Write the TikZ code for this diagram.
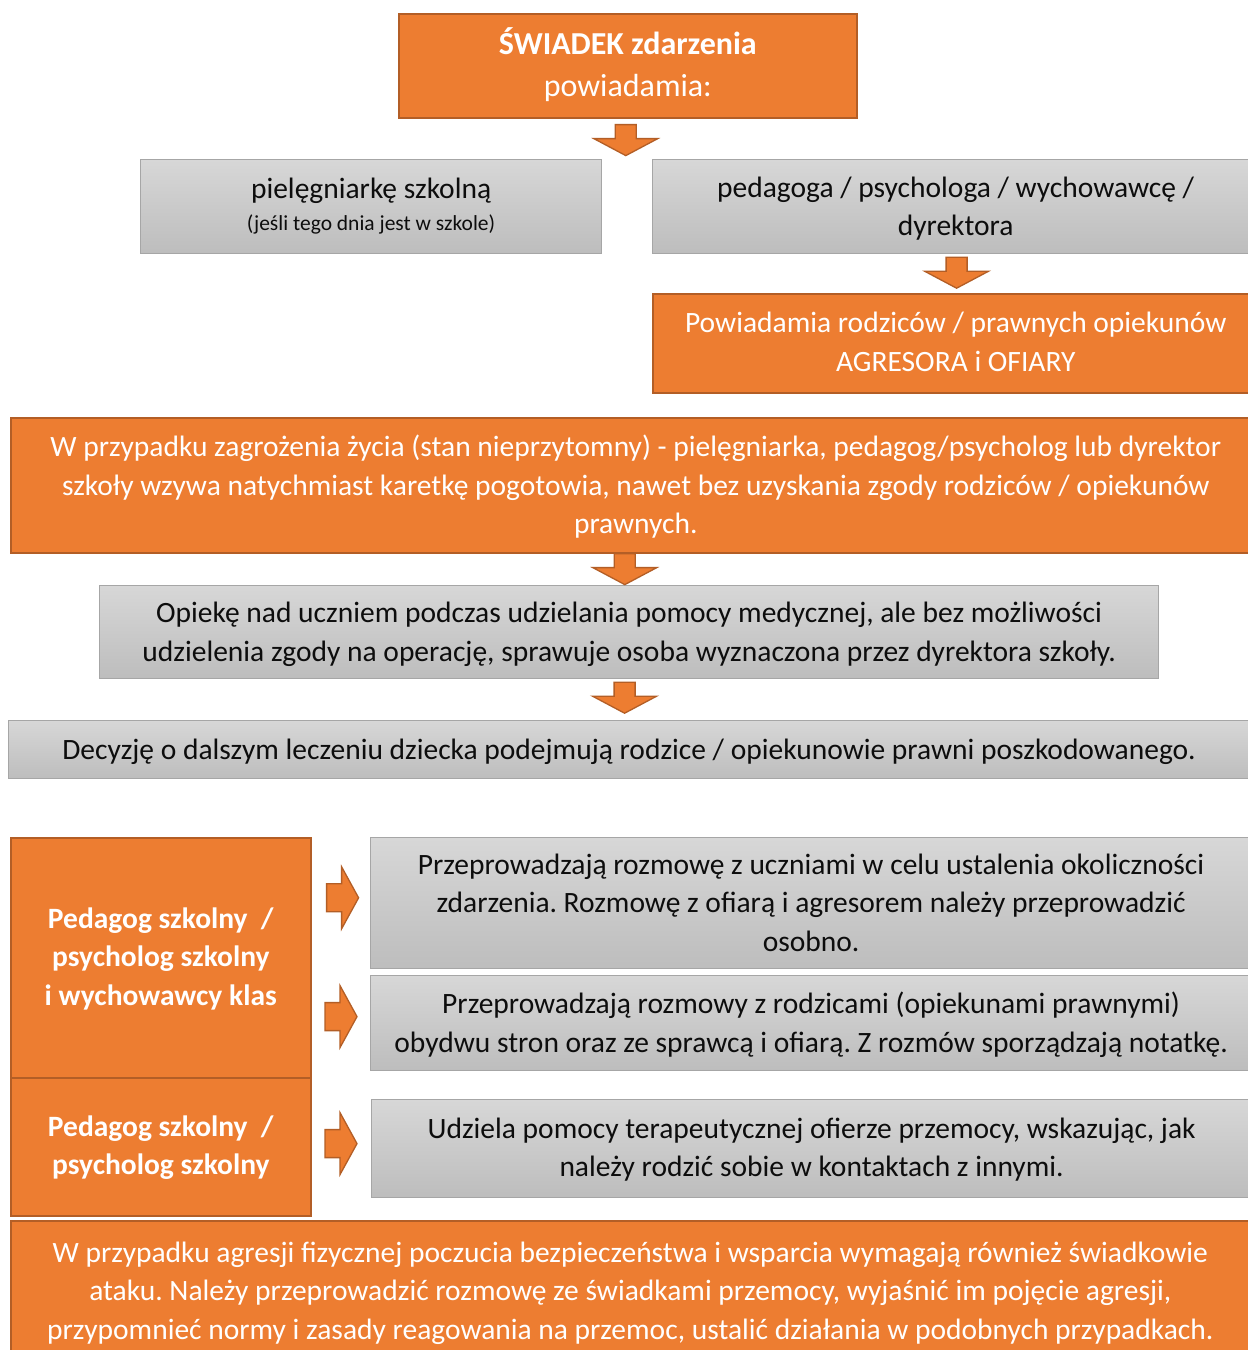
\documentclass[tikz,border=0pt]{standalone}
\usepackage{fontspec}
\setmainfont{Carlito}
\usetikzlibrary{calc}
\definecolor{org}{HTML}{ED7D31}
\definecolor{orgd}{HTML}{B35E26}
\definecolor{gtop}{HTML}{D7D7D7}
\definecolor{gbot}{HTML}{BDBDBD}
\definecolor{gline}{HTML}{A6A6A6}
\newcommand\tx[2][-2pt]{\raisebox{#1}[\height][\depth]{\begin{tabular}{@{}c@{}}#2\end{tabular}}}
\begin{document}
\frenchspacing
\begin{tikzpicture}[x=1pt,y=-1pt,
 box/.style={anchor=north west, inner sep=0pt, font=\fontsize{29.5}{38.5}\selectfont},
 obox/.style={box, fill=org, draw=orgd, line width=1.6pt, text=white},
 gbox/.style={box, top color=gtop, bottom color=gbot, draw=gline, line width=1.2pt, text=black!95},
 arr/.style={fill=org, draw=orgd, line width=1.3pt, line join=miter},
 darrow/.pic={\draw[arr] (-10.5,0) -- (10.5,0) -- (10.5,14) -- (32,14) -- (0,31) -- (-32,14) -- (-10.5,14) -- cycle;},
 rarrow/.pic={\draw[arr] (0,-14) -- (15,-14) -- (15,-31) -- (32,0) -- (15,31) -- (15,14) -- (0,14) -- cycle;}
]
\useasboundingbox[fill=white] (0,0) rectangle (1248,1350);
\clip (0,0) rectangle (1248,1350);

\node[obox, minimum width=458, minimum height=104, font=\fontsize{32}{42}\selectfont] (top) at (398,13)
  {\tx[-1pt]{\textbf{ŚWIADEK zdarzenia}\\powiadamia:}};
\node[gbox, minimum width=461, minimum height=94] (nurse) at (140,159)
  {\tx[0pt]{pielęgniarkę szkolną\\[-7pt]{\fontsize{21.5}{26}\selectfont (jeśli tego dnia jest w szkole)}}};
\node[gbox, minimum width=606, minimum height=94] (staff) at (652,159)
  {\tx{pedagoga / psychologa / wychowawcę /\\dyrektora}};
\node[obox, minimum width=606, minimum height=99] (parents) at (652,293)
  {\tx[-1pt]{Powiadamia rodziców / prawnych opiekunów\\AGRESORA i OFIARY}};
\node[obox, minimum width=1250, minimum height=135] (emerg) at (10,417)
  {\tx{W przypadku zagrożenia życia (stan nieprzytomny) - pielęgniarka, pedagog/psycholog lub dyrektor\\szkoły wzywa natychmiast karetkę pogotowia, nawet bez uzyskania zgody rodziców / opiekunów\\prawnych.}};
\node[gbox, minimum width=1059, minimum height=93] (care) at (99,585)
  {\tx{Opiekę nad uczniem podczas udzielania pomocy medycznej, ale bez możliwości\\udzielenia zgody na operację, sprawuje osoba wyznaczona przez dyrektora szkoły.}};
\node[gbox, minimum width=1241, minimum height=58] (decision) at (8,720)
  {\tx{Decyzję o dalszym leczeniu dziecka podejmują rodzice / opiekunowie prawni poszkodowanego.}};
\node[obox, minimum width=300, minimum height=240, font=\fontsize{29.5}{38.5}\selectfont\bfseries] (ped1) at (10,837)
  {\tx[-1pt]{Pedagog szkolny~~/\\psycholog szkolny\\i wychowawcy klas}};
\node[obox, minimum width=300, minimum height=138, font=\fontsize{29.5}{38.5}\selectfont\bfseries] (ped2) at (10,1077)
  {\tx[-1pt]{Pedagog szkolny~~/\\psycholog szkolny}};
\node[gbox, minimum width=881, minimum height=131] (talk1) at (370,837)
  {\tx{Przeprowadzają rozmowę z uczniami w celu ustalenia okoliczności\\zdarzenia. Rozmowę z ofiarą i agresorem należy przeprowadzić\\osobno.}};
\node[gbox, minimum width=881, minimum height=95] (talk2) at (370,975)
  {\tx{Przeprowadzają rozmowy z rodzicami (opiekunami prawnymi)\\obydwu stron oraz ze sprawcą i ofiarą. Z rozmów sporządzają notatkę.}};
\node[gbox, minimum width=880, minimum height=98] (therapy) at (371,1099)
  {\tx[-1pt]{Udziela pomocy terapeutycznej ofierze przemocy, wskazując, jak\\należy rodzić sobie w kontaktach z innymi.}};
\node[obox, minimum width=1239, minimum height=142] (witness) at (10,1220)
  {\tx[-1pt]{W przypadku agresji fizycznej poczucia bezpieczeństwa i wsparcia wymagają również świadkowie\\ataku. Należy przeprowadzić rozmowę ze świadkami przemocy, wyjaśnić im pojęcie agresji,\\przypomnieć normy i zasady reagowania na przemoc, ustalić działania w podobnych przypadkach.}};

% block arrows
\path ($(top.south)+(-2,6)$) pic {darrow};
\path ($(staff.south)+(1,3)$) pic {darrow};
\path ($(emerg.south)+(-11,0)$) pic {darrow};
\path ($(care.south)+(-4.5,3)$) pic {darrow};
\path ($(ped1.east)+(15,-60)$) pic {rarrow};
\path ($(talk2.west)+(-45,-6.5)$) pic {rarrow};
\path ($(therapy.west)+(-46,-5)$) pic {rarrow};
\end{tikzpicture}
\end{document}
